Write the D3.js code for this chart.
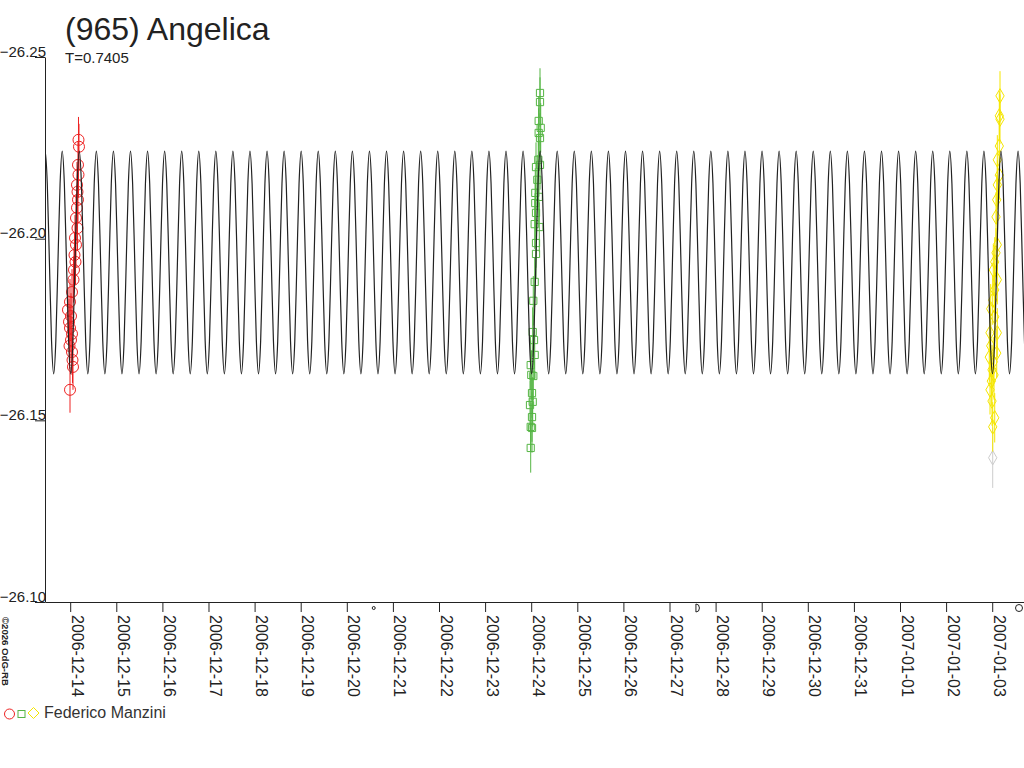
<!DOCTYPE html>
<html>
<head>
<meta charset="utf-8">
<script src="https://cdn.jsdelivr.net/npm/d3@7"></script>
<style>
  body { margin: 0; background: #fff; }
  svg { display: block; font-family: 'Liberation Sans', Arial, sans-serif; }
</style>
</head>
<body>
<div id="chart"></div>
<script>
// Lightcurve model: period (days), one maximum epoch, one half-cycle of shape
const period = 0.7405;
const maxEpoch = '2006-12-23T10:53:00Z';
const modelShape = [-26.2241, -26.2151, -26.1935, -26.1718, -26.1628, -26.1718, -26.1935, -26.2151];

// Session 1 (red circles), hours UT from session date
const redDate = '2006-12-14';
const redHours = [4.32, 4.58, 4.06, 4.32, 3.54, 3.80, 4.06, 3.54, 3.02, 3.80, 2.50, 3.02, 2.24, 2.76, 1.98,
  1.72, 0.94, -0.10, -1.15, 0.42, -0.62, -0.10, 0.94, 0.42, -0.36, 0.94, 1.20, 1.46, -0.10];
const redMags = [-26.2272, -26.2253, -26.2203, -26.2176, -26.2148, -26.2129, -26.2107, -26.2085, -26.2057,
  -26.2029, -26.2002, -26.1983, -26.1955, -26.1936, -26.1914, -26.1887, -26.1853, -26.1826, -26.1804,
  -26.1787, -26.1771, -26.1754, -26.1738, -26.1721, -26.1705, -26.1688, -26.1666, -26.1647, -26.1584];
const redErr = 0.0063;

// Session 2 (green squares)
const greenDate = '2006-12-24';
const greenHours = [4.58, 4.58, 3.90, 4.95, 3.90, 4.58, 3.70, 4.58, 2.50, 3.18, 2.13, 3.90, 2.13, 2.50, 1.82,
  4.22, 2.50, 2.50, 1.82, 1.09, 0.78, 1.46, 1.82, -0.26, 1.09, 0.05, 0.42, 0.78, -0.62, 0.42, -0.26, 0.42, -0.26];
const greenMags = [-26.2401, -26.2376, -26.2324, -26.2305, -26.2291, -26.2277, -26.2217, -26.2203, -26.2197,
  -26.2162, -26.2126, -26.2115, -26.2098, -26.2071, -26.2040, -26.2032, -26.1988, -26.1958, -26.1881,
  -26.1829, -26.1743, -26.1721, -26.1680, -26.1652, -26.1622, -26.1625, -26.1575, -26.1551, -26.1542,
  -26.1509, -26.1482, -26.1479, -26.1424];
const greenErr = 0.0068;

// Session 3 (yellow diamonds)
const yellowDate = '2007-01-03';
const yellowHours = [4.06, 3.70, 4.06, 3.70, 2.66, 3.70, 2.66, 2.34, 1.98, 2.66, 1.98, 1.30, 0.57, 2.66, 1.30,
  0.26, -0.78, 1.30, -1.15, 2.66, -0.78, 2.34, -1.51, 0.57, -0.10, 0.94, -0.47, -1.15, -0.10, 1.30, 0.26];
const yellowMags = [-26.2393, -26.2338, -26.2329, -26.2255, -26.2217, -26.2175, -26.2148, -26.2107, -26.2060,
  -26.1983, -26.1961, -26.1936, -26.1914, -26.1887, -26.1859, -26.1831, -26.1807, -26.1785, -26.1741,
  -26.1741, -26.1705, -26.1685, -26.1674, -26.1661, -26.1639, -26.1625, -26.1608, -26.1584, -26.1553,
  -26.1507, -26.1482];
const yellowErr = 0.0068;

// Rejected point (grey diamond)
const greyHours = [0.26];
const greyMags = [-26.1397];
const greyErr = 0.0083;

const yTicks = [-26.25, -26.20, -26.15, -26.10];
const moonPhases = [
  { date: '2006-12-20T14:01:00Z', phase: 'new' },
  { date: '2006-12-27T14:48:00Z', phase: 'first' },
  { date: '2007-01-03T13:57:00Z', phase: 'full' }
];

const width = 1024, height = 768;
const plotLeft = 45, plotRight = 1024, plotTop = 57, plotBottom = 602;

const svg = d3
  .select('#chart')
  .append('svg')
  .attr('width', width)
  .attr('height', height);

const x = d3
  .scaleUtc()
  .domain([new Date('2006-12-13T10:53:00Z'), new Date('2007-01-03T16:33:00Z')])
  .range([plotLeft, plotRight]);
const y = d3.scaleLinear().domain([-26.25, -26.10]).range([plotTop, plotBottom]);

function toTimes(dateStr, hours) {
  const base = Date.parse(dateStr + 'T00:00:00Z');
  return hours.map((h) => new Date(base + h * 36e5));
}

// Title
svg.append('text').attr('x', 65).attr('y', 40).style('font-size', '32px').style('fill', '#222').text('(965) Angelica');
svg.append('text').attr('x', 65).attr('y', 63).style('font-size', '15px').style('fill', '#222').text('T=' + period);

// Axes
const yAxis = svg
  .append('g')
  .attr('transform', `translate(${plotLeft},0)`)
  .call(d3.axisLeft(y).tickValues(yTicks).tickSize(10).tickSizeOuter(0).tickFormat(d3.format('.2f')));
yAxis.selectAll('text').attr('x', 1).attr('y', -1).attr('dy', null).style('font-size', '15px').style('fill', '#222');

const xAxis = svg
  .append('g')
  .attr('transform', `translate(0,${plotBottom})`)
  .call(d3.axisBottom(x).ticks(d3.utcDay.every(1)).tickSize(10).tickSizeOuter(0).tickFormat(d3.utcFormat('%Y-%m-%d')));
xAxis
  .selectAll('text')
  .attr('x', 13)
  .attr('y', -1)
  .attr('dy', null)
  .attr('transform', 'rotate(90)')
  .style('text-anchor', 'start')
  .style('font-size', '16px')
  .style('fill', '#222');
svg.selectAll('.domain, .tick line').attr('stroke', '#222');

// Moon phases
moonPhases.forEach((m) => {
  const mx = x(new Date(m.date));
  const g = svg.append('g').attr('transform', `translate(${mx},608)`).attr('fill', 'none').attr('stroke', '#222');
  if (m.phase === 'new') g.append('circle').attr('r', 1.5);
  else if (m.phase === 'first') g.append('path').attr('d', 'M-2,-4 L-2,4 A3.5,4 0 0 0 -2,-4');
  else g.append('circle').attr('r', 3.5);
});

// Copyright
svg
  .append('text')
  .attr('transform', 'translate(2,617) rotate(90)')
  .style('font-size', '9.6px')
  .style('font-weight', 'bold')
  .style('fill', '#222')
  .text('©2026 OdG-RB');

// Observations
const sessions = [
  { times: toTimes(redDate, redHours), mags: redMags, err: redErr, color: '#ee2222', symbol: d3.symbolCircle, size: 95 },
  { times: toTimes(greenDate, greenHours), mags: greenMags, err: greenErr, color: '#55b544', symbol: d3.symbolSquare, size: 52 },
  { times: toTimes(yellowDate, greyHours), mags: greyMags, err: greyErr, color: '#cccccc', symbol: d3.symbolDiamond, size: 60 },
  { times: toTimes(yellowDate, yellowHours), mags: yellowMags, err: yellowErr, color: '#f5e600', symbol: d3.symbolDiamond, size: 60 }
];

sessions.forEach((s) => {
  const pts = s.times.map((t, i) => ({ t: t, m: s.mags[i] }));
  const g = svg.append('g');
  g.selectAll('line')
    .data(pts)
    .enter()
    .append('line')
    .attr('x1', (d) => x(d.t))
    .attr('x2', (d) => x(d.t))
    .attr('y1', (d) => y(d.m - s.err))
    .attr('y2', (d) => y(d.m + s.err))
    .attr('stroke', s.color)
    .attr('stroke-width', 1);
  g.selectAll('path')
    .data(pts)
    .enter()
    .append('path')
    .attr('transform', (d) => `translate(${x(d.t)},${y(d.m)})`)
    .attr('d', d3.symbol().type(s.symbol).size(s.size))
    .attr('fill', 'none')
    .attr('stroke', s.color)
    .attr('stroke-width', 1);
});

// Model curve: the read half-cycle shape repeated at the stated period
const half = period / 2;
const epoch = Date.parse(maxEpoch);
const modelPts = [];
for (let k = -30; k <= 33; k++) {
  modelShape.forEach((m, j) => {
    modelPts.push({ t: new Date(epoch + (k + j / modelShape.length) * half * 864e5), m: m });
  });
}

svg
  .append('clipPath')
  .attr('id', 'plotClip')
  .append('rect')
  .attr('x', plotLeft)
  .attr('y', 0)
  .attr('width', plotRight - plotLeft)
  .attr('height', plotBottom);

svg
  .append('path')
  .datum(modelPts)
  .attr('clip-path', 'url(#plotClip)')
  .attr('fill', 'none')
  .attr('stroke', '#222')
  .attr('stroke-width', 1.2)
  .attr('d', d3.line().x((d) => x(d.t)).y((d) => y(d.m)).curve(d3.curveCardinal));

// Legend
const legend = svg.append('g').attr('fill', 'none');
legend.append('circle').attr('cx', 9.5).attr('cy', 714).attr('r', 5).attr('stroke', '#ee2222');
legend.append('rect').attr('x', 18).attr('y', 710.5).attr('width', 7).attr('height', 7).attr('stroke', '#55b544');
legend
  .append('path')
  .attr('transform', 'translate(33.5,713)')
  .attr('d', 'M0,-5.5 L5.5,0 L0,5.5 L-5.5,0 Z')
  .attr('stroke', '#f5e600');
svg.append('text').attr('x', 44).attr('y', 718).style('font-size', '16px').style('fill', '#333').text('Federico Manzini');
</script>
</body>
</html>
